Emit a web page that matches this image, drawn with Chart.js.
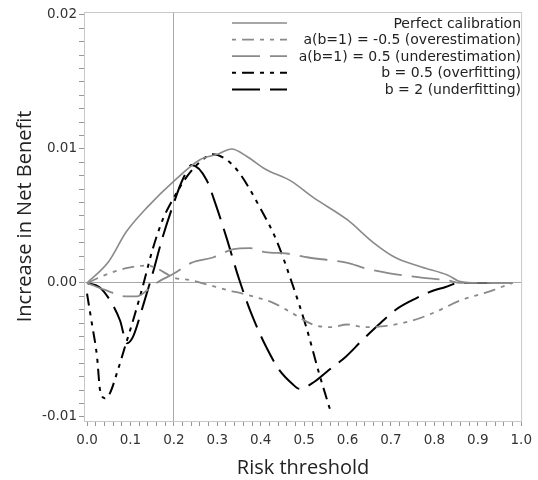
<!DOCTYPE html>
<html>
<head>
<meta charset="utf-8">
<script src="https://cdn.jsdelivr.net/npm/chart.js@4/dist/chart.umd.min.js"></script>
<style>
  html, body { margin: 0; padding: 0; background: #fff; }
  #wrap { width: 538px; height: 480px; position: relative; }
</style>
</head>
<body>
<div id="wrap"><canvas id="nbChart"></canvas></div>
<script>
// series labels
const seriesLabels = [
    'Perfect calibration',
    'a(b=1) = -0.5 (overestimation)',
    'a(b=1) = 0.5 (underestimation)',
    'b = 0.5 (overfitting)',
    'b = 2 (underfitting)'
];

// values (risk threshold, increase in net benefit)
const perfectX = [0, 0.05, 0.09, 0.14, 0.2, 0.26, 0.3, 0.333, 0.37, 0.41, 0.47, 0.52, 0.6, 0.66, 0.71, 0.77, 0.83, 0.86, 0.9, 0.98];
const perfectY = [0, 0.0016, 0.0038, 0.0057, 0.0076, 0.0092, 0.0096, 0.0100, 0.0094, 0.0085, 0.0076, 0.0064, 0.0047, 0.0030, 0.0019, 0.0012, 0.0006, 0.0001, 0, 0];

const overestX = [0, 0.05, 0.09, 0.14, 0.16, 0.2, 0.24, 0.275, 0.32, 0.37, 0.43, 0.47, 0.52, 0.56, 0.6, 0.64, 0.69, 0.75, 0.8, 0.86, 0.92, 0.98];
const overestY = [0, 0.0007, 0.0011, 0.0013, 0.0011, 0.0004, 0.0002, -0.0001, -0.0005, -0.0009, -0.0015, -0.0022, -0.0031, -0.0033, -0.0031, -0.0033, -0.0032, -0.0028, -0.0022, -0.0013, -0.0007, 0];

const underestX = [0, 0.04, 0.09, 0.115, 0.14, 0.16, 0.2, 0.24, 0.29, 0.335, 0.375, 0.41, 0.46, 0.51, 0.6, 0.64, 0.7, 0.77, 0.83, 0.86, 0.92, 0.98];
const underestY = [0, -0.0005, -0.0010, -0.0010, -0.0005, 0, 0.0007, 0.0015, 0.0019, 0.0025, 0.0026, 0.0023, 0.0022, 0.0019, 0.0015, 0.0011, 0.0007, 0.0004, 0.0002, 0, 0, 0];

const overfitX = [0, 0.011, 0.023, 0.03, 0.041, 0.053, 0.069, 0.087, 0.106, 0.128, 0.151, 0.174, 0.197, 0.229, 0.259, 0.289, 0.321, 0.351, 0.397, 0.436, 0.472, 0.505, 0.534, 0.562];
const overfitY = [-0.0008, -0.0030, -0.0055, -0.0080, -0.0086, -0.0082, -0.0067, -0.0048, -0.0028, -0.0003, 0.0025, 0.0047, 0.0062, 0.0079, 0.0090, 0.0096, 0.0092, 0.0082, 0.0057, 0.0032, 0.0000, -0.0033, -0.0067, -0.0097];

const underfitX = [0, 0.028, 0.053, 0.076, 0.092, 0.106, 0.128, 0.151, 0.174, 0.197, 0.22, 0.241, 0.275, 0.298, 0.321, 0.351, 0.381, 0.413, 0.443, 0.472, 0.489, 0.518, 0.557, 0.596, 0.633, 0.672, 0.711, 0.748, 0.787, 0.826, 0.856, 0.93];
const underfitY = [0, -0.0003, -0.0013, -0.0028, -0.0045, -0.0040, -0.0018, 0.0007, 0.0034, 0.0057, 0.0077, 0.0088, 0.0077, 0.0057, 0.0034, 0.0002, -0.0025, -0.0048, -0.0065, -0.0075, -0.0079, -0.0075, -0.0065, -0.0055, -0.0043, -0.0031, -0.0020, -0.0013, -0.0007, -0.0003, 0, 0];

// tick labels
const xTickLabels = ['0.0', '0.1', '0.2', '0.3', '0.4', '0.5', '0.6', '0.7', '0.8', '0.9', '1.0'];
const yTickLabels = ['-0.01', '0.00', '0.01', '0.02'];

const GREY = '#8a8a8a';
const DASH_MIX = [12, 6, 4, 6, 4, 6];   // long, short, short
const DASH_LONG = [28, 10];

function toPoints(xs, ys) {
    return xs.map((x, i) => ({x: x, y: ys[i]}));
}

function lineSet(label, xs, ys, color, width, dash) {
    return {
        label: label,
        data: toPoints(xs, ys),
        borderColor: color,
        borderWidth: width,
        borderDash: dash,
        pointRadius: 0,
        fill: false,
        cubicInterpolationMode: 'monotone'
    };
}

// frame round the plot area
const framePlugin = {
    id: 'frame',
    beforeDatasetsDraw(chart) {
        const {ctx, chartArea: a} = chart;
        ctx.save();
        ctx.strokeStyle = '#c8c8c8';
        ctx.lineWidth = 1;
        ctx.strokeRect(a.left + 0.5, a.top + 0.5, a.right - a.left - 1, a.bottom - a.top);
        ctx.restore();
    }
};

// legend: line sample on the left, text right aligned
const legendPlugin = {
    id: 'rightLegend',
    afterDraw(chart) {
        const ctx = chart.ctx;
        chart.data.datasets.forEach((ds, i) => {
            const y = 23 + i * 16.6;
            ctx.save();
            ctx.strokeStyle = ds.borderColor;
            ctx.lineWidth = ds.borderWidth;
            ctx.setLineDash(ds.borderDash || []);
            ctx.lineDashOffset = ds.borderDash === DASH_MIX ? 28 : 0;
            ctx.beginPath();
            ctx.moveTo(232, y);
            ctx.lineTo(287, y);
            ctx.stroke();
            ctx.setLineDash([]);
            ctx.fillStyle = '#222';
            ctx.font = '14px "DejaVu Sans"';
            ctx.textAlign = 'right';
            ctx.textBaseline = 'middle';
            ctx.fillText(ds.label, 521, y + 1);
            ctx.restore();
        });
    }
};

const tickFont = {family: 'DejaVu Sans', size: 13.5};
const titleFont = {family: 'Open Sans', size: 20};

const ctx = document.getElementById('nbChart').getContext('2d');
const myChart = new Chart(ctx, {
    type: 'line',
    data: {
        datasets: [
            lineSet(seriesLabels[0], perfectX, perfectY, GREY, 1.6, []),
            lineSet(seriesLabels[1], overestX, overestY, GREY, 1.8, DASH_MIX),
            lineSet(seriesLabels[2], underestX, underestY, GREY, 1.8, DASH_LONG),
            lineSet(seriesLabels[3], overfitX, overfitY, '#000', 2, DASH_MIX),
            lineSet(seriesLabels[4], underfitX, underfitY, '#000', 2, DASH_LONG)
        ]
    },
    options: {
        responsive: true,
        maintainAspectRatio: false,
        animation: false,
        layout: {padding: {top: 12, right: 15, left: 0, bottom: 0}},
        plugins: {
            legend: {display: false},
            tooltip: {enabled: false}
        },
        scales: {
            x: {
                type: 'linear',
                min: -0.007,
                max: 1.002,
                afterBuildTicks(scale) {
                    const t = [];
                    for (let i = 0; i <= 50; i++) t.push({value: Math.round(i * 2) / 100});
                    scale.ticks = t;
                },
                afterFit(scale) { scale.height = 59; },
                ticks: {
                    autoSkip: false,
                    maxRotation: 0,
                    padding: 6,
                    color: '#333',
                    font: tickFont,
                    callback: (v, i) => (i % 5 === 0 ? xTickLabels[i / 5] : '')
                },
                grid: {
                    drawTicks: true,
                    tickLength: 5,
                    tickColor: '#999',
                    color: (c) => (c.tick && Math.abs(c.tick.value - 0.2) < 1e-9 ? '#a8a8a8' : 'rgba(0,0,0,0)')
                },
                border: {display: false},
                title: {
                    display: true,
                    text: 'Risk threshold',
                    color: '#222',
                    font: titleFont,
                    padding: {top: 0, bottom: 0}
                }
            },
            y: {
                type: 'linear',
                min: -0.0103,
                max: 0.02022,
                afterBuildTicks(scale) {
                    const t = [];
                    for (let i = -10; i <= 20; i++) t.push({value: i / 1000});
                    scale.ticks = t;
                },
                afterFit(scale) { scale.width = 84; },
                ticks: {
                    autoSkip: false,
                    padding: 2,
                    color: '#333',
                    font: tickFont,
                    callback: (v, i) => (i % 10 === 0 ? yTickLabels[i / 10] : '')
                },
                grid: {
                    drawTicks: true,
                    tickLength: 5,
                    tickColor: '#999',
                    color: (c) => (c.tick && Math.abs(c.tick.value) < 1e-9 ? '#a8a8a8' : 'rgba(0,0,0,0)')
                },
                border: {display: false},
                title: {
                    display: true,
                    text: 'Increase in Net Benefit',
                    color: '#222',
                    font: titleFont,
                    padding: {top: 13, bottom: 0}
                }
            }
        }
    },
    plugins: [framePlugin, legendPlugin]
});
</script>
</body>
</html>
